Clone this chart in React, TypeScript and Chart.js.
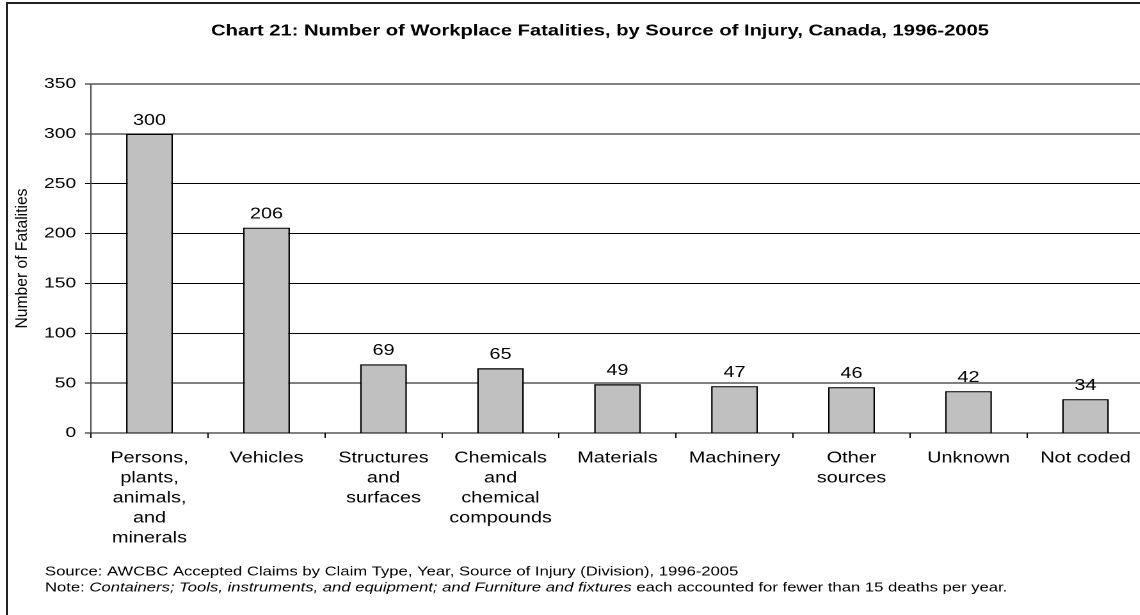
import React, { useEffect, useRef } from "react";
import { Chart, registerables } from "chart.js";

Chart.register(...registerables);

// ---------- data ----------
const categories: string[][] = [
  ["Persons,", "plants,", "animals,", "and", "minerals"],
  ["Vehicles"],
  ["Structures", "and", "surfaces"],
  ["Chemicals", "and", "chemical", "compounds"],
  ["Materials"],
  ["Machinery"],
  ["Other", "sources"],
  ["Unknown"],
  ["Not coded"],
];
const fatalities: number[] = [300, 206, 69, 65, 49, 47, 46, 42, 34];
const yMin = 0;
const yMax = 350;
const yStep = 50;

const titleText =
  "Chart 21: Number of Workplace Fatalities, by Source of Injury, Canada, 1996-2005";
const yAxisTitle = "Number of Fatalities";
const sourceNote =
  "Source: AWCBC Accepted Claims by Claim Type, Year, Source of Injury (Division), 1996-2005";
const notePrefix = "Note: ";
const noteItalic =
  "Containers; Tools, instruments, and equipment; and Furniture and fixtures";
const noteSuffix = " each accounted for fewer than 15 deaths per year.";

// ---------- layout ----------
const S = 1.28; // horizontal stretch of the reference rendering
const CW = 900;
const CH = 615;
const FAMILY = '"Liberation Sans", Arial, Helvetica, sans-serif';

const valueLabels = {
  id: "valueLabels",
  afterDatasetsDraw(chart: any) {
    const ctx = chart.ctx;
    const meta = chart.getDatasetMeta(0);
    ctx.save();
    ctx.fillStyle = "#000";
    ctx.font = `15.5px ${FAMILY}`;
    ctx.textAlign = "center";
    ctx.textBaseline = "alphabetic";
    meta.data.forEach((bar: any, i: number) => {
      ctx.fillText(String(fatalities[i]), bar.x, bar.y - 9);
    });
    ctx.restore();
  },
};

const texts = {
  id: "texts",
  afterDraw(chart: any) {
    const ctx = chart.ctx;
    const area = chart.chartArea;
    ctx.save();
    ctx.fillStyle = "#000";
    // title
    ctx.font = `bold 15.75px ${FAMILY}`;
    ctx.textAlign = "center";
    ctx.textBaseline = "alphabetic";
    ctx.fillText(titleText, 600 / S, 35.5);

    // y axis title (rotated)
    ctx.save();
    ctx.translate(22 / S, (area.top + area.bottom) / 2);
    ctx.rotate(-Math.PI / 2);
    ctx.font = `13px ${FAMILY}`;
    const w = ctx.measureText(yAxisTitle).width;
    ctx.scale(140 / w, 1);
    ctx.textAlign = "center";
    ctx.textBaseline = "middle";
    ctx.fillText(yAxisTitle, 0, 0);
    ctx.restore();

    // footnotes
    ctx.textAlign = "left";
    ctx.textBaseline = "alphabetic";
    ctx.font = `13px ${FAMILY}`;
    const x0 = 45 / S;
    ctx.fillText(sourceNote, x0, 575.5);
    let x = x0;
    const y2 = 591.5;
    ctx.fillText(notePrefix, x, y2);
    x += ctx.measureText(notePrefix).width;
    ctx.font = `italic 13px ${FAMILY}`;
    ctx.fillText(noteItalic, x, y2);
    x += ctx.measureText(noteItalic).width;
    ctx.font = `13px ${FAMILY}`;
    ctx.fillText(noteSuffix, x, y2);
    ctx.restore();
  },
};

export default function App() {
  const ref = useRef<HTMLCanvasElement>(null);

  useEffect(() => {
    if (!ref.current) return;
    Chart.defaults.font.family = FAMILY;
    const chart = new Chart(ref.current, {
      type: "bar",
      data: {
        labels: categories,
        datasets: [
          {
            data: fatalities,
            backgroundColor: "#c0c0c0",
            borderColor: "#000",
            borderWidth: 1.3,
            barPercentage: 0.4,
            categoryPercentage: 1,
          },
        ],
      },
      options: {
        animation: false,
        responsive: false,
        devicePixelRatio: 2,
        layout: {
          padding: { top: 84, right: CW - 1144 / S, left: 0, bottom: 0 },
        },
        plugins: {
          legend: { display: false },
          title: { display: false },
          tooltip: { enabled: false },
        },
        scales: {
          x: {
            grid: {
              display: true,
              drawOnChartArea: false,
              drawTicks: true,
              tickLength: 5,
              color: "#000",
              offset: true,
            },
            border: { display: true, color: "#000", width: 1 },
            ticks: {
              color: "#000",
              font: { size: 15.5, lineHeight: 20 / 15.5 },
              padding: 10,
              maxRotation: 0,
              minRotation: 0,
              autoSkip: false,
            },
            afterFit: (s: any) => {
              s.height = CH - 433;
            },
          },
          y: {
            min: yMin,
            max: yMax,
            ticks: {
              stepSize: yStep,
              color: "#000",
              font: { size: 15 },
              padding: 7,
            },
            grid: {
              color: "#000",
              lineWidth: 1,
              drawTicks: true,
              tickLength: 6 / S,
            },
            border: { display: true, color: "#444", width: 1 },
            afterFit: (s: any) => {
              s.width = 91 / S;
            },
          },
        },
      },
      plugins: [valueLabels, texts],
    });
    return () => chart.destroy();
  }, []);

  return (
    <div
      style={{
        position: "fixed",
        left: 0,
        top: 0,
        width: 1140,
        height: 615,
        overflow: "hidden",
        background: "#fff",
      }}
    >
      <div
        style={{
          position: "absolute",
          left: 0,
          top: 0,
          width: CW,
          height: CH,
          transform: `scaleX(${S})`,
          transformOrigin: "0 0",
        }}
      >
        <canvas
          ref={ref}
          width={CW}
          height={CH}
          style={{ width: `${CW}px`, height: `${CH}px`, display: "block" }}
        />
      </div>
      <div
        style={{
          position: "absolute",
          left: 6,
          top: 2,
          width: 2000,
          height: 1000,
          borderLeft: "2px solid #222",
          borderTop: "2px solid #222",
          pointerEvents: "none",
        }}
      />
    </div>
  );
}
